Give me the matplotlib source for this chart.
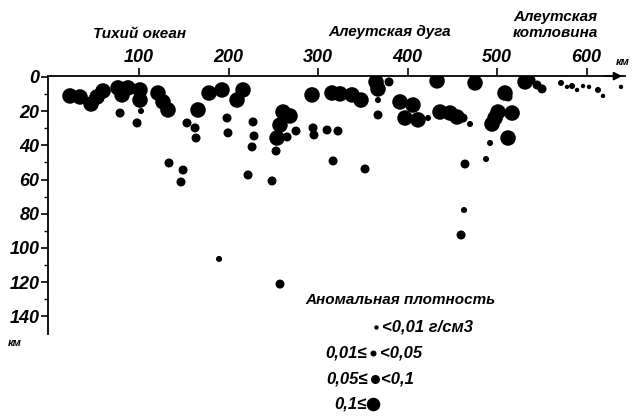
import matplotlib
matplotlib.use("Agg")
import matplotlib.pyplot as plt

plt.rcParams["font.family"] = ["Liberation Sans", "DejaVu Sans"]

# distance along the profile (km), depth (km), anomalous density class
# class 1: <0.01, 2: 0.01-0.05, 3: 0.05-0.1, 4: >=0.1 g/cm3
dist_km = [22.9, 34.1, 59.8, 53.1, 46.4, 76.5, 87.7, 81.0, 78.8, 101.1,
           101.1, 102.2, 97.8, 121.2, 126.8, 132.4,
           165.9, 178.2, 192.7, 216.2, 209.5, 153.6, 162.6, 163.7, 198.3, 199.4,
           227.4, 228.5, 226.3, 260.9, 268.7, 257.5, 254.2, 265.4, 275.4, 253.1,
           133.5, 149.2, 146.9, 221.8, 248.6, 189.4, 257.5,
           293.3, 315.6, 324.6, 338.0, 348.0, 364.8, 367.0, 379.3, 367.0, 367.0,
           391.6, 406.1, 397.2, 411.7, 422.9, 294.4, 295.5, 310.1, 322.3, 316.8,
           352.5,
           433.0, 475.4, 531.3, 538.0, 544.7, 550.3, 508.9, 512.3, 436.3, 447.5,
           455.3, 462.0, 469.8, 501.1, 497.8, 494.4, 516.8, 512.3, 492.2, 487.7,
           464.2, 463.1, 459.8,
           571.5, 578.2, 583.8, 589.4, 596.1, 602.8, 612.8, 618.4, 638.5]
depth_km = [11.1, 11.7, 8.2, 11.7, 15.8, 6.4, 6.4, 10.5, 21.1, 7.6,
            13.5, 19.9, 26.9, 9.4, 14.6, 19.3,
            19.3, 9.4, 7.6, 7.6, 13.5, 26.9, 29.8, 35.7, 24.0, 32.7,
            26.3, 34.5, 40.9, 20.5, 22.8, 28.1, 35.7, 35.1, 31.6, 43.3,
            50.3, 54.4, 61.4, 57.3, 60.8, 106.4, 121.1,
            10.5, 9.4, 9.9, 10.5, 13.5, 2.9, 7.0, 2.9, 13.5, 22.2,
            14.6, 16.4, 24.0, 25.1, 24.0, 29.8, 33.9, 31.0, 31.6, 49.1,
            53.8,
            2.3, 3.5, 2.9, 1.8, 4.7, 7.0, 9.4, 11.7, 20.5, 21.1,
            23.4, 24.0, 27.5, 20.5, 24.0, 27.5, 21.1, 35.7, 38.6, 48.0,
            50.9, 77.8, 92.4,
            3.5, 5.8, 5.3, 7.6, 5.3, 5.8, 7.6, 11.1, 5.8]
dens_class = [4, 4, 4, 4, 4, 4, 4, 4, 3, 4,
              4, 2, 3, 4, 4, 4,
              4, 4, 4, 4, 4, 3, 3, 3, 3, 3,
              3, 3, 3, 4, 4, 4, 4, 3, 3, 3,
              3, 3, 3, 3, 3, 2, 3,
              4, 4, 4, 4, 4, 4, 4, 3, 2, 3,
              4, 4, 4, 4, 2, 3, 3, 3, 3, 3,
              3,
              4, 4, 4, 3, 3, 3, 4, 3, 4, 4,
              4, 3, 2, 4, 4, 4, 4, 4, 2, 2,
              3, 2, 3,
              2, 1, 2, 1, 1, 1, 2, 1, 1]

class_size = {1: 10, 2: 19, 3: 42, 4: 125}
legend_low = ["", "0,01≤", "0,05≤", "0,1≤"]
legend_high = ["<0,01 г/см3", "<0,05", "<0,1", ""]

regions = ["Тихий океан", "Алеутская дуга", "Алеутская", "котловина"]
region_x = [101, 380, 565, 565]
region_y = [1.163, 1.171, 1.23, 1.167]

fig = plt.figure(figsize=(6.33, 4.17), dpi=100)
ax = fig.add_axes([0.0754, 0.2002, 0.912, 0.6173])

sizes = [class_size[c] for c in dens_class]
ax.scatter(dist_km, depth_km, s=sizes, c="black", linewidths=0, zorder=3)

ax.set_xlim(-2, 643)
ax.set_ylim(150, -0.5)

ax.spines["right"].set_visible(False)
ax.spines["bottom"].set_visible(False)
ax.spines["top"].set_linewidth(1.3)
ax.spines["left"].set_linewidth(1.3)

ax.xaxis.tick_top()
ax.set_xticks([100, 200, 300, 400, 500, 600])
ax.set_yticks(range(0, 141, 20))
ax.set_yticks(range(10, 141, 20), minor=True)
ax.tick_params(axis="x", direction="out", length=6, width=1.2, pad=1, labelsize=13)
ax.tick_params(axis="y", which="major", direction="out", length=5, width=1.2, pad=1, labelsize=13)
ax.tick_params(axis="y", which="minor", direction="out", length=3, width=1.0)
for lab in ax.get_xticklabels() + ax.get_yticklabels():
    lab.set_fontstyle("italic")
    lab.set_fontweight("bold")

# arrow at the end of the distance axis
ax.annotate("", xy=(1.0, 1.0), xytext=(0.96, 1.0), xycoords="axes fraction",
            arrowprops=dict(arrowstyle="-|>", color="black", lw=1.3,
                            mutation_scale=12), annotation_clip=False)
fig.text(0.983, 0.851, "км", fontsize=8, style="italic", fontweight="bold",
         ha="center", va="center")
fig.text(0.024, 0.177, "км", fontsize=8, style="italic", fontweight="bold",
         ha="center", va="center")

for name, xr, yr in zip(regions, region_x, region_y):
    ax.text(xr, yr, name, transform=ax.get_xaxis_transform(), fontsize=11,
            style="italic", fontweight="bold", ha="center", va="center")

# legend
fig.text(0.632, 0.281, "Аномальная плотность", fontsize=11, style="italic",
         fontweight="bold", ha="center", va="center")
leg_y = [0.216, 0.1535, 0.0911, 0.0312]
leg_dot_x = [0.594, 0.590, 0.592, 0.590]
for i, c in enumerate([1, 2, 3, 4]):
    ax.scatter([leg_dot_x[i]], [leg_y[i]], s=class_size[c] if c < 4 else 95,
               c="black", linewidths=0, transform=fig.transFigure, clip_on=False)
    if legend_low[i]:
        fig.text(leg_dot_x[i] - 0.011, leg_y[i], legend_low[i], fontsize=12,
                 style="italic", fontweight="bold", ha="right", va="center")
    if legend_high[i]:
        fig.text(leg_dot_x[i] + 0.010, leg_y[i], legend_high[i], fontsize=12,
                 style="italic", fontweight="bold", ha="left", va="center")

fig.savefig("out.png", dpi=100)
